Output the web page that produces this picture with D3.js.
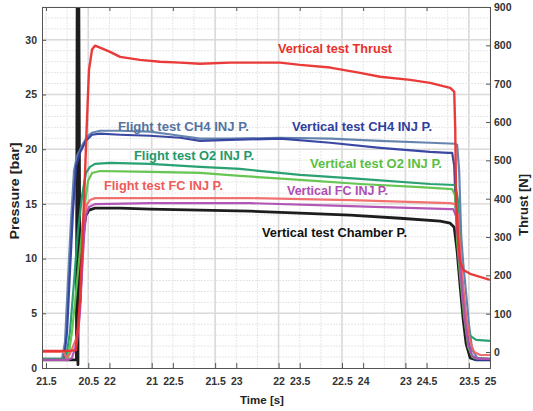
<!DOCTYPE html>
<html><head><meta charset="utf-8">
<script src="https://cdn.jsdelivr.net/npm/d3@7"></script>
<style>
html,body{margin:0;padding:0;background:#fff;}
svg{display:block;font-family:"Liberation Sans",Arial,sans-serif;}
</style></head><body>
<svg id="c" width="533" height="411"></svg>
<script>
// ---- tick labels ----
const timeTicksA = [21.5, 22, 22.5, 23, 23.5, 24, 24.5, 25];
const timeTicksB = [20.5, 21, 21.5, 22, 22.5, 23, 23.5];
const timeOffsetB = 4 / 3;
const pressureTicks = [0, 5, 10, 15, 20, 25, 30];
const thrustTicks = [0, 100, 200, 300, 400, 500, 600, 700, 800, 900];

// ---- series: [time (s), value] ----
const flightCH4 = [[21.468,0.83],[21.626,0.83],[21.650,2.39],[21.673,7.90],[21.697,13.42],[21.721,18.01],[21.744,19.39],[21.784,20.31],[21.823,21.14],[21.863,21.51],[21.926,21.69],[22.084,21.69],[22.320,21.60],[22.557,21.23],[22.714,20.96],[22.951,20.96],[23.345,21.05],[23.740,20.96],[24.134,20.77],[24.528,20.59],[24.726,20.50],[24.741,20.40],[24.757,18.01],[24.773,12.04],[24.789,9.56],[24.812,6.80],[24.836,3.77],[24.860,1.65],[24.899,0.92],[25.0,0.83]];
const vertCH4 = [[21.468,0.74],[21.642,0.74],[21.666,3.31],[21.689,8.82],[21.713,14.34],[21.737,18.47],[21.768,19.67],[21.815,20.77],[21.863,21.32],[21.926,21.42],[22.084,21.32],[22.320,21.23],[22.557,21.05],[22.714,20.77],[22.951,20.86],[23.345,20.96],[23.740,20.59],[24.134,20.13],[24.528,19.76],[24.670,19.67],[24.702,19.67],[24.718,18.47],[24.733,13.88],[24.757,10.66],[24.781,7.90],[24.804,5.15],[24.828,2.57],[24.852,1.19],[24.883,0.74],[25.0,0.74]];
const flightO2 = [[21.468,0.83],[21.658,0.83],[21.689,3.31],[21.721,7.90],[21.752,12.50],[21.784,15.72],[21.815,17.83],[21.847,18.38],[21.886,18.66],[22.005,18.75],[22.320,18.66],[22.714,18.38],[23.030,18.20],[23.503,17.65],[23.976,17.28],[24.528,16.82],[24.726,16.73],[24.749,15.26],[24.765,10.66],[24.789,6.53],[24.812,4.04],[24.844,2.94],[24.891,2.57],[25.0,2.48]];
const vertO2 = [[21.468,0.74],[21.673,0.74],[21.705,3.31],[21.737,6.99],[21.768,10.66],[21.800,14.34],[21.831,17.10],[21.863,17.83],[21.926,18.01],[22.320,17.92],[22.714,17.83],[23.030,17.56],[23.503,17.19],[23.976,16.82],[24.449,16.54],[24.702,16.36],[24.726,15.72],[24.741,11.58],[24.765,8.36],[24.796,4.69],[24.828,1.93],[24.860,1.01],[24.907,0.83],[25.0,0.83]];
const flightFC = [[21.468,1.47],[21.642,1.47],[21.658,0.92],[21.689,1.29],[21.737,2.67],[21.760,4.04],[21.776,7.44],[21.792,11.12],[21.808,13.88],[21.823,14.98],[21.847,15.35],[21.886,15.53],[22.320,15.53],[23.109,15.53],[23.897,15.35],[24.686,15.07],[24.726,14.98],[24.749,13.88],[24.765,10.66],[24.789,7.44],[24.812,4.69],[24.844,2.39],[24.875,1.47],[24.923,1.19],[25.0,1.19]];
const vertFC = [[21.468,0.74],[21.673,0.74],[21.705,0.92],[21.744,2.39],[21.768,5.15],[21.784,8.82],[21.800,12.04],[21.815,13.97],[21.839,14.71],[21.886,14.98],[22.320,15.07],[23.109,15.07],[23.897,14.80],[24.686,14.52],[24.710,14.52],[24.733,13.88],[24.757,10.20],[24.781,6.99],[24.804,4.23],[24.828,2.21],[24.860,1.10],[24.907,0.83],[25.0,0.83]];
const chamberP = [[21.468,0.74],[21.740,0.74],[21.746,36],[21.752,0.3],[21.758,36],[21.768,6.07],[21.784,10.66],[21.800,12.96],[21.815,13.97],[21.839,14.43],[21.886,14.61],[22.084,14.61],[22.320,14.52],[22.714,14.43],[23.109,14.34],[23.503,14.15],[23.897,13.97],[24.292,13.69],[24.607,13.42],[24.686,13.24],[24.718,12.87],[24.741,10.66],[24.765,7.44],[24.789,4.41],[24.812,2.21],[24.844,0.92],[24.891,0.74],[25.0,0.74]];
const vertThrust = [[21.468,3],[21.689,3],[21.737,5],[21.768,136],[21.800,397],[21.823,606],[21.839,736],[21.863,789],[21.886,799],[21.926,794],[22.005,783],[22.084,770],[22.241,762],[22.399,757],[22.557,755],[22.714,752],[22.951,755],[23.188,755],[23.345,755],[23.503,749],[23.740,742],[23.976,728],[24.134,718],[24.371,710],[24.528,702],[24.686,689],[24.718,679],[24.726,580],[24.733,397],[24.749,292],[24.765,235],[24.789,214],[24.844,204],[25.0,188]];

const seriesNames = ["Vertical test Chamber P.","Flight test CH4 INJ P.","Vertical test CH4 INJ P.","Flight test O2 INJ P.","Vertical test O2 INJ P.","Flight test FC INJ P.","Vertical FC INJ P.","Vertical test Thrust"];
const seriesData = [chamberP, flightCH4, vertCH4, flightO2, vertO2, flightFC, vertFC, vertThrust];
const seriesAxis = ["p","p","p","p","p","p","p","t"];
const seriesColors = ["#111111","#5f7dab","#2f3e9e","#1f9c6c","#5ec24a","#f06868","#b04db3","#e8312f"];
const labelColors = ["#111111","#55739f","#2f3e9e","#1f9a6b","#5bbf45","#ef5a5a","#b04db3","#e8302c"];

// ---- layout ----
const L = 42, R = 490, T = 7, B = 368;
const svg = d3.select("#c");
const x1 = d3.scaleLinear().domain([21.4685, 25]).range([L, R]);
const x2 = d3.scaleLinear().domain([21.4685 - timeOffsetB, 25 - timeOffsetB]).range([L, R]);
const yP = d3.scaleLinear().domain([0, 33]).range([B, T]);
const yT = d3.scaleLinear().domain([-41.7, 900]).range([B, T]);

svg.append("defs").append("clipPath").attr("id","clip")
  .append("rect").attr("x",L).attr("y",T).attr("width",R-L).attr("height",B-T);

// ---- grid ----
const g = svg.append("g");
const minorX = d3.range(0, 22).map(k => 21.5 + k / 6);
g.selectAll(".mx").data(minorX).join("line")
  .attr("x1", d => x1(d)).attr("x2", d => x1(d)).attr("y1", T).attr("y2", B)
  .attr("stroke", "#e6e6e6").attr("stroke-width", 1).attr("stroke-dasharray", "2,1");
g.selectAll(".Mx").data(timeTicksB).join("line")
  .attr("x1", d => x2(d)).attr("x2", d => x2(d)).attr("y1", T).attr("y2", B)
  .attr("stroke", "#dadada").attr("stroke-width", 1.6);
const minorY = d3.range(1, 34);
g.selectAll(".my").data(minorY).join("line")
  .attr("x1", L).attr("x2", R).attr("y1", d => yP(d)).attr("y2", d => yP(d))
  .attr("stroke", "#e6e6e6").attr("stroke-width", 1).attr("stroke-dasharray", "2,1");
g.selectAll(".My").data(pressureTicks.slice(1)).join("line")
  .attr("x1", L).attr("x2", R).attr("y1", d => yP(d)).attr("y2", d => yP(d))
  .attr("stroke", "#dadada").attr("stroke-width", 1.4);

// ---- lines ----
const lines = svg.append("g").attr("clip-path", "url(#clip)");
seriesData.forEach((data, i) => {
  const ys = seriesAxis[i] === "t" ? yT : yP;
  const line = d3.line().x(d => x1(d[0])).y(d => ys(d[1]));
  lines.append("path").datum(data)
    .attr("d", line).attr("fill", "none")
    .attr("stroke", seriesColors[i])
    .attr("stroke-width", i === 0 ? 2.8 : (i === 7 ? 2.4 : 2.2))
    .attr("stroke-linejoin", "round").attr("opacity", 0.95);
});

// ---- axes ----
const fmt = d => String(d);
function styleAxis(sel) {
  sel.selectAll("text").attr("font-size", "10.5px").attr("font-weight", "bold").attr("fill", "#333");
  sel.selectAll("line").attr("stroke", "#555");
  sel.select(".domain").attr("stroke", "#555");
}
svg.append("g").attr("transform", `translate(${L},0)`)
  .call(d3.axisLeft(yP).tickValues(pressureTicks).tickFormat(fmt).tickSize(-4).tickPadding(5)).call(styleAxis);
svg.append("g").attr("transform", `translate(${R},0)`)
  .call(d3.axisRight(yT).tickValues(thrustTicks).tickFormat(fmt).tickSize(-4).tickPadding(4)).call(styleAxis);
svg.append("g").attr("transform", `translate(0,${B})`)
  .call(d3.axisBottom(x1).tickValues(timeTicksA).tickFormat(fmt).tickSize(-5).tickPadding(10)).call(styleAxis);
svg.append("g").attr("transform", `translate(0,${B})`)
  .call(d3.axisBottom(x2).tickValues(timeTicksB).tickFormat(fmt).tickSize(-5).tickPadding(10)).call(styleAxis);
svg.append("g").attr("transform", `translate(0,${T})`)
  .call(d3.axisTop(x1).tickValues(timeTicksA).tickFormat("").tickSize(-4)).call(styleAxis);

// ---- axis titles ----
svg.append("text").attr("transform", "translate(16,191) rotate(-90)")
  .attr("text-anchor", "middle").attr("dominant-baseline", "middle")
  .attr("font-size", "13px").attr("font-weight", "bold").attr("fill", "#222")
  .attr("textLength", 97).attr("lengthAdjust", "spacingAndGlyphs").text("Pressure [bar]");
svg.append("text").attr("transform", "translate(525,205) rotate(-90)")
  .attr("text-anchor", "middle").attr("dominant-baseline", "middle")
  .attr("font-size", "13px").attr("font-weight", "bold").attr("fill", "#222").text("Thrust [N]");
svg.append("text").attr("x", 262).attr("y", 404).attr("text-anchor", "middle")
  .attr("font-size", "11.5px").attr("font-weight", "bold").attr("fill", "#222").text("Time [s]");

// ---- series annotations ----
const labelX = [262, 118, 292, 134, 310, 104, 287, 278];
const labelY = [237, 131, 131, 160, 168, 190, 195, 53];
const labelW = [145, 131, 140, 120, 132, 119, 101, 114];
seriesNames.forEach((name, i) => {
  svg.append("text").attr("x", labelX[i]).attr("y", labelY[i])
    .attr("font-size", "12.5px").attr("font-weight", "bold")
    .attr("fill", labelColors[i])
    .attr("textLength", labelW[i]).attr("lengthAdjust", "spacingAndGlyphs")
    .text(name);
});
</script>
</body></html>
